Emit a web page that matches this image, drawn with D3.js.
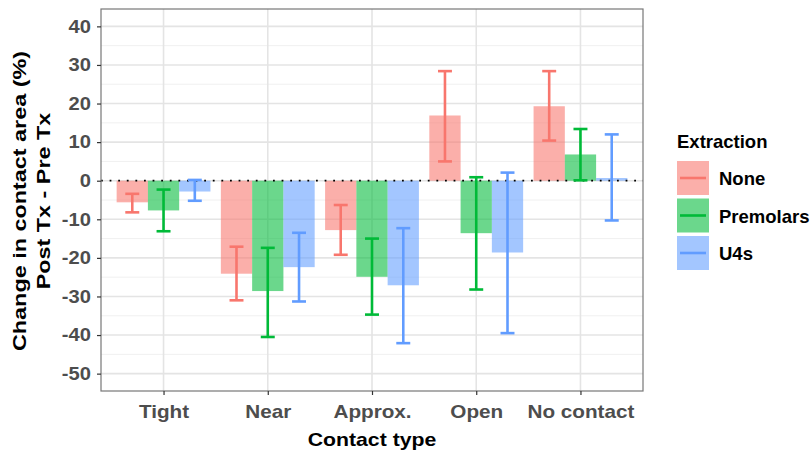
<!DOCTYPE html>
<html>
<head>
<meta charset="utf-8">
<script src="https://cdn.jsdelivr.net/npm/d3@7"></script>
<style>
  body { margin: 0; background: #fff; }
  text { font-family: "Liberation Sans", Arial, sans-serif; font-weight: bold; }
</style>
</head>
<body>
<div id="chart"></div>
<script>
// data
var contactTypes = ["Tight", "Near", "Approx.", "Open", "No contact"];
var groups = ["None", "Premolars", "U4s"];
var groupColors = ["#F8766D", "#00BA38", "#619CFF"];
// mean change per group, by contact type
var meanNone      = [-5.6, -24.1, -12.8, 16.9, 19.3];
var meanPremolars = [-7.7, -28.6, -24.9, -13.6, 6.8];
var meanU4s       = [-2.8, -22.4, -27.1, -18.6, 0.7];
// error bar lower / upper
var lowNone       = [-8.2, -31.0, -19.2, 5.0, 10.4];
var highNone      = [-3.4, -17.1, -6.3, 28.4, 28.4];
var lowPremolars  = [-13.1, -40.5, -34.7, -28.2, 0.1];
var highPremolars = [-2.3, -17.4, -15.0, 0.9, 13.4];
var lowU4s        = [-5.2, -31.3, -42.1, -39.5, -10.3];
var highU4s       = [0.2, -13.5, -12.3, 2.1, 12.0];
var yTicks = [40, 30, 20, 10, 0, -10, -20, -30, -40, -50];
var yMinor = [35, 25, 15, 5, -5, -15, -25, -35, -45];
var yTitleLines = ["Change in contact area (%)", "Post Tx - Pre Tx"];

var means = [meanNone, meanPremolars, meanU4s];
var lows = [lowNone, lowPremolars, lowU4s];
var highs = [highNone, highPremolars, highU4s];

var rows = [];
groups.forEach(function(g, gi){
  contactTypes.forEach(function(c, ci){
    rows.push({group: g, gi: gi, ci: ci, mean: means[gi][ci], low: lows[gi][ci], high: highs[gi][ci]});
  });
});

var W = 812, H = 455;
var panel = {left: 101, right: 643, top: 9, bottom: 391};

var svg = d3.select("#chart").append("svg")
  .attr("width", W).attr("height", H);

var x = d3.scaleLinear().domain([0.4, 5.6]).range([panel.left, panel.right]);
var y = d3.scaleLinear().domain([-54.5, 44.5]).range([panel.bottom, panel.top]);

var dodge = 0.3;
function cx(d){ return d.ci + 1 + (d.gi - 1) * dodge; }

// grid
var grid = svg.append("g");
grid.selectAll(".minor").data(yMinor).enter().append("line")
  .attr("x1", panel.left).attr("x2", panel.right)
  .attr("y1", function(d){ return y(d); }).attr("y2", function(d){ return y(d); })
  .attr("stroke", "#F0F0F0").attr("stroke-width", 1);
grid.selectAll(".major").data(yTicks).enter().append("line")
  .attr("x1", panel.left).attr("x2", panel.right)
  .attr("y1", function(d){ return y(d); }).attr("y2", function(d){ return y(d); })
  .attr("stroke", "#E4E4E4").attr("stroke-width", 1.6);
grid.selectAll(".vmajor").data(contactTypes).enter().append("line")
  .attr("x1", function(d, i){ return x(i + 1); }).attr("x2", function(d, i){ return x(i + 1); })
  .attr("y1", panel.top).attr("y2", panel.bottom)
  .attr("stroke", "#E4E4E4").attr("stroke-width", 1.6);

// bars
svg.append("g").selectAll("rect").data(rows).enter().append("rect")
  .attr("x", function(d){ return x(cx(d) - dodge / 2); })
  .attr("width", function(d){ return x(dodge) - x(0); })
  .attr("y", function(d){ return y(Math.max(0, d.mean)); })
  .attr("height", function(d){ return Math.abs(y(d.mean) - y(0)); })
  .attr("fill", function(d){ return groupColors[d.gi]; })
  .attr("fill-opacity", 0.58);

// zero line
svg.append("line")
  .attr("x1", panel.left).attr("x2", panel.right)
  .attr("y1", y(0)).attr("y2", y(0))
  .attr("stroke", "#000").attr("stroke-width", 1.8)
  .attr("stroke-dasharray", "1.8,6.8");

// error bars
var capHalf = 0.067;
var eb = svg.append("g").selectAll("g").data(rows).enter().append("g")
  .attr("stroke", function(d){ return groupColors[d.gi]; })
  .attr("stroke-width", 2.6);
eb.append("line")
  .attr("x1", function(d){ return x(cx(d)); }).attr("x2", function(d){ return x(cx(d)); })
  .attr("y1", function(d){ return y(d.low); }).attr("y2", function(d){ return y(d.high); });
eb.append("line")
  .attr("x1", function(d){ return x(cx(d) - capHalf); }).attr("x2", function(d){ return x(cx(d) + capHalf); })
  .attr("y1", function(d){ return y(d.low); }).attr("y2", function(d){ return y(d.low); });
eb.append("line")
  .attr("x1", function(d){ return x(cx(d) - capHalf); }).attr("x2", function(d){ return x(cx(d) + capHalf); })
  .attr("y1", function(d){ return y(d.high); }).attr("y2", function(d){ return y(d.high); });

// panel border
svg.append("rect")
  .attr("x", panel.left).attr("y", panel.top)
  .attr("width", panel.right - panel.left).attr("height", panel.bottom - panel.top)
  .attr("fill", "none").attr("stroke", "#777").attr("stroke-width", 1.2);

// axes
var yAxis = d3.axisLeft(y).tickValues(yTicks).tickSize(4).tickPadding(6)
  .tickFormat(function(d){ return String(d); });
var gy = svg.append("g").attr("transform", "translate(" + panel.left + ",0)").call(yAxis);
gy.select(".domain").remove();
gy.selectAll(".tick line").attr("stroke", "#333").attr("stroke-width", 1.2);
gy.selectAll(".tick text").attr("fill", "#4D4D4D").style("font-size", "18px").style("font-weight", "bold")
  .attr("transform", "scale(1.12,1)").attr("x", -10 / 1.12);

var xAxis = d3.axisBottom(x).tickValues([1, 2, 3, 4, 5])
  .tickFormat(function(d){ return contactTypes[d - 1]; }).tickSize(4).tickPadding(10);
var gx = svg.append("g").attr("transform", "translate(0," + panel.bottom + ")").call(xAxis);
gx.select(".domain").remove();
gx.selectAll(".tick line").attr("stroke", "#333").attr("stroke-width", 1.2);
gx.selectAll(".tick text").attr("fill", "#4D4D4D").style("font-size", "18px").style("font-weight", "bold")
  .attr("transform", "scale(1.15,1)");

// axis titles
svg.append("text")
  .attr("transform", "translate(" + ((panel.left + panel.right) / 2) + ",446) scale(1.18,1)")
  .attr("text-anchor", "middle").style("font-size", "18px").attr("fill", "#000")
  .text("Contact type");
var midY = (panel.top + panel.bottom) / 2 + 1;
svg.selectAll(".ytitle").data(yTitleLines).enter().append("text")
  .attr("class", "ytitle")
  .attr("transform", function(d, i){
    return "translate(" + (i === 0 ? 26 : 50) + "," + midY + ") rotate(-90) scale(1.3,1)";
  })
  .attr("text-anchor", "middle").style("font-size", "18px").attr("fill", "#000")
  .text(function(d){ return d; });

// legend
var lg = svg.append("g").attr("transform", "translate(677,0)");
lg.append("text").attr("x", 0).attr("y", 148).style("font-size", "18.5px").attr("fill", "#000").text("Extraction");
var items = lg.selectAll(".item").data(groups).enter().append("g")
  .attr("transform", function(d, i){ return "translate(0," + (161 + i * 37.5) + ")"; });
items.append("rect").attr("width", 32).attr("height", 34)
  .attr("fill", function(d, i){ return groupColors[i]; }).attr("fill-opacity", 0.58);
items.append("line").attr("x1", 3).attr("x2", 29).attr("y1", 17).attr("y2", 17)
  .attr("stroke", function(d, i){ return groupColors[i]; }).attr("stroke-width", 2.6);
items.append("text").attr("x", 42).attr("y", 24).style("font-size", "18.5px").attr("fill", "#000")
  .text(function(d){ return d; });
</script>
</body>
</html>
